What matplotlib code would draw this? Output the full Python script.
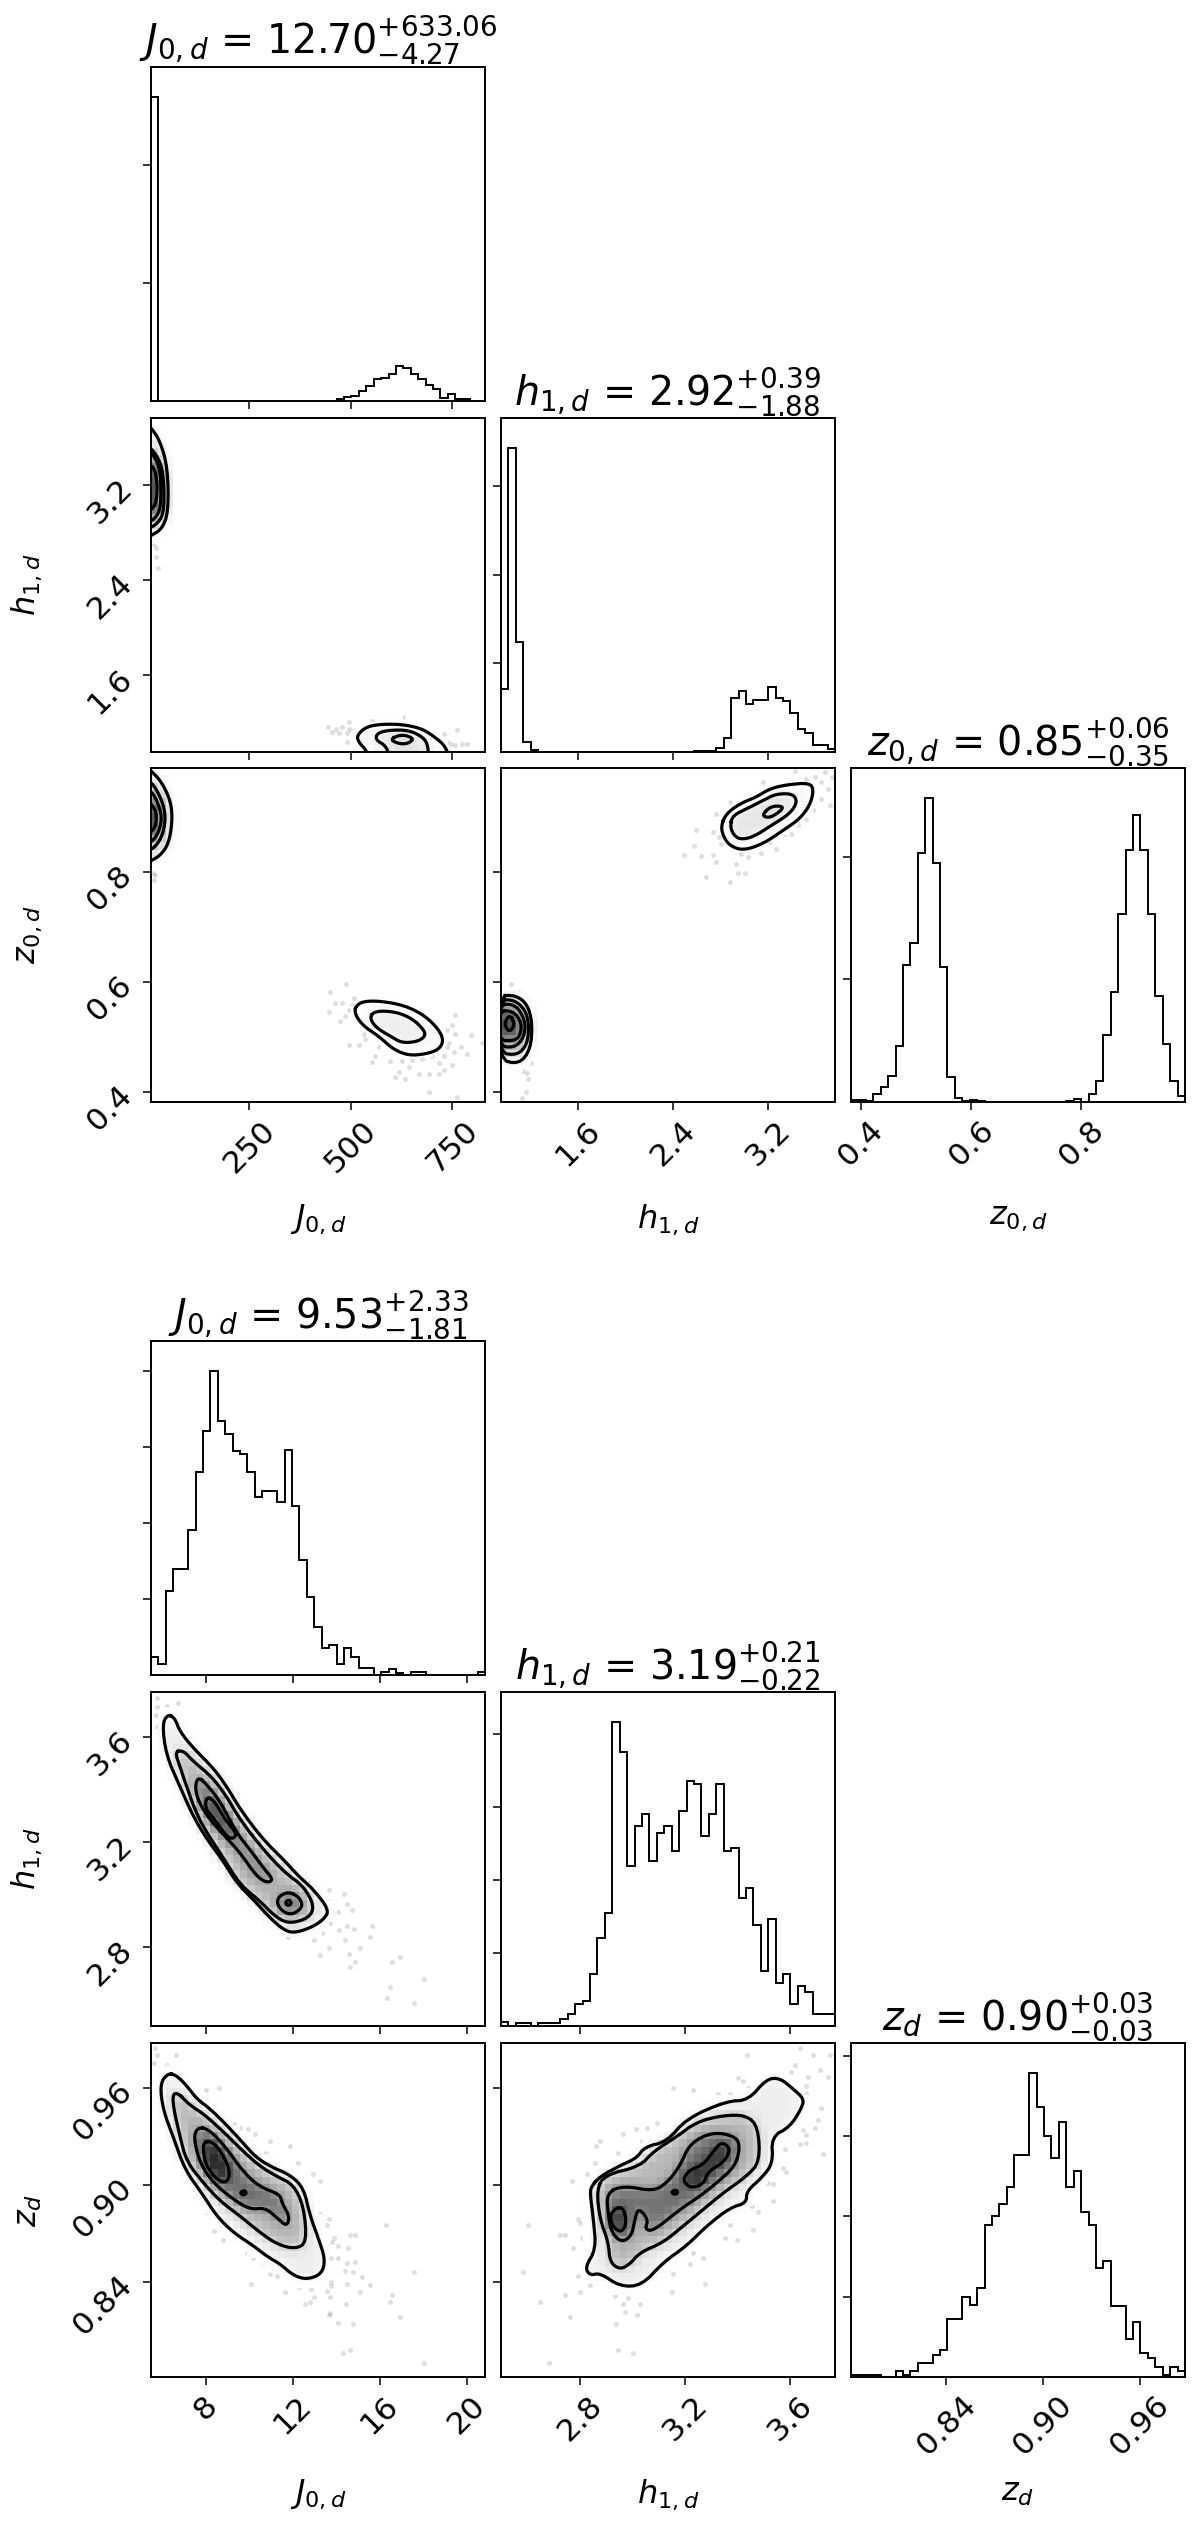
import numpy as np
import matplotlib
matplotlib.use("Agg")
import matplotlib.pyplot as plt
from matplotlib.path import Path

# ---------- labels and ticks ----------
LAB_J = r"$J_{0,d}$"
LAB_H = r"$h_{1,d}$"
LAB_Z0 = r"$z_{0,d}$"
LAB_Z = r"$z_{d}$"
TITLE_T = [r"$J_{0,d}$ = ${12.70}_{-4.27}^{+633.06}$", r"$h_{1,d}$ = ${2.92}_{-1.88}^{+0.39}$", r"$z_{0,d}$ = ${0.85}_{-0.35}^{+0.06}$"]
TITLE_B = [r"$J_{0,d}$ = ${9.53}_{-1.81}^{+2.33}$", r"$h_{1,d}$ = ${3.19}_{-0.22}^{+0.21}$", r"$z_{d}$ = ${0.90}_{-0.03}^{+0.03}$"]

LIM_J_T = (7.0, 831.0); LIM_H_T = (0.955, 3.76); LIM_Z_T = (0.382, 0.988)
LIM_J_B = (5.47, 20.83); LIM_H_B = (2.499, 3.771); LIM_Z_B = (0.781, 0.988)
TICKS_J_T = [250, 500, 750]; TICKS_H_T = [1.6, 2.4, 3.2]; TICKS_Z_T = [0.4, 0.6, 0.8]
TICKS_J_B = [8, 12, 16, 20]; TICKS_H_B = [2.8, 3.2, 3.6]; TICKS_Z_B = [0.84, 0.90, 0.96]
FMT_J_T = ["250", "500", "750"]; FMT_H_T = ["1.6", "2.4", "3.2"]; FMT_Z_T = ["0.4", "0.6", "0.8"]
FMT_J_B = ["8", "12", "16", "20"]; FMT_H_B = ["2.8", "3.2", "3.6"]; FMT_Z_B = ["0.84", "0.90", "0.96"]

# ---------- 1D histograms: counts per bin (45 bins) ----------
HIST_J_T = [1030] + [0]*24 + [6, 14, 18, 34, 50, 75, 78, 90, 119, 113, 92, 73, 55, 41, 10, 23, 7, 6, 0, 0]
HIST_H_T = [285, 1370, 498, 47, 7] + [0]*21 + [5, 5, 5, 17, 64, 245, 275, 215, 235, 235, 292, 245, 230, 176, 102, 84, 32, 32, 15]
HIST_Z_T = [5, 5, 2, 27, 48, 86, 184, 446, 517, 811, 990, 779, 440, 82, 13, 4, 7, 2] + [0]*11 + [4, 9, 0, 25, 70, 217, 358, 614, 822, 936, 822, 614, 347, 188, 68, 20]
HIST_J_B = [24, 15, 111, 140, 140, 191, 267, 321, 400, 335, 317, 295, 291, 267, 234, 243, 243, 228, 297, 223, 151, 103, 63, 35, 39, 15, 35, 24, 9, 9, 0, 4, 8, 3, 0, 4, 4, 0, 0, 0, 0, 0, 0, 0, 4]
HIST_H_B = [5, 0, 4, 4, 0, 4, 4, 4, 9, 16, 30, 34, 71, 121, 155, 416, 375, 219, 274, 290, 226, 265, 274, 240, 295, 336, 331, 260, 290, 331, 240, 244, 176, 189, 139, 75, 147, 59, 71, 30, 55, 46, 16, 16, 16]
HIST_Z_B = [3, 3, 3, 3, 0, 0, 7, 3, 7, 17, 17, 28, 34, 72, 72, 99, 90, 111, 189, 200, 215, 237, 276, 276, 378, 336, 300, 273, 317, 237, 256, 205, 189, 136, 144, 88, 88, 47, 68, 30, 24, 12, 3, 12, 7]
YTICKS_J_T = [400, 800]; YTICKS_H_T = [400, 800, 1200]; YTICKS_Z_T = [400, 800]
YTICKS_B = [100, 200, 300, 400]

# ---------- density contours (x, y data values) ----------
B21_1 = [(6.26,3.686),(6.57,3.671),(6.80,3.620),(7.42,3.557),(8.34,3.481),(8.95,3.411),(9.64,3.316),(10.64,3.208),(11.64,3.126),(12.26,3.069),(12.87,3.025),(13.67,2.942),(13.41,2.904),(12.79,2.872),(12.02,2.853),(11.56,2.866),(10.95,2.910),(10.18,2.980),(9.41,3.044),(8.80,3.126),(7.95,3.221),(7.34,3.310),(6.80,3.411),(6.16,3.532),(5.99,3.652)]
B21_2 = [(6.57,3.544),(6.96,3.548),(7.42,3.506),(8.26,3.449),(8.95,3.373),(9.57,3.284),(10.64,3.170),(11.64,3.082),(12.49,3.031),(12.99,2.955),(12.72,2.910),(11.87,2.889),(11.26,2.910),(10.41,2.980),(9.57,3.037),(8.80,3.139),(7.95,3.246),(7.49,3.322),(7.11,3.411),(6.80,3.487)]
B21_3a = [(7.65,3.449),(8.11,3.411),(8.65,3.354),(9.41,3.234),(10.03,3.170),(10.64,3.101),(11.10,3.056),(10.80,3.044),(10.33,3.069),(9.57,3.158),(9.03,3.208),(8.18,3.284),(7.65,3.354),(7.49,3.411)]
B21_3b = [(11.79,3.012),(12.33,2.987),(12.45,2.949),(11.87,2.919),(11.33,2.949),(11.26,2.987)]
B21_4a = [(8.03,3.373),(8.41,3.354),(8.88,3.284),(9.41,3.234),(9.26,3.211),(8.95,3.221),(8.41,3.284),(7.95,3.329)]
B21_4b = [(11.79,2.980),(11.95,2.968),(11.79,2.956),(11.63,2.968)]
B21_SX = [5.76,5.76,6.19,6.69,5.70,5.73,13.64,14.33,14.48,14.71,13.71,14.07,13.33,14.48,14.79,14.10,15.63,15.56,14.41,15.10,13.64,13.25,14.56,14.87,14.64,16.56,16.94,18.02,16.48,16.33,17.55,10.95,11.76,12.95,13.71]
B21_SY = [3.747,3.715,3.718,3.728,3.684,3.639,3.016,3.003,2.965,2.942,2.974,2.933,2.853,2.881,2.869,2.866,2.881,2.838,2.828,2.796,2.796,2.769,2.775,2.742,2.724,2.742,2.762,2.679,2.648,2.604,2.585,2.876,2.838,2.826,2.891]

B31_1 = [(6.26,.9694),(6.65,.9678),(7.11,.9616),(7.57,.9534),(8.18,.9473),(8.95,.9371),(9.72,.9258),(10.26,.9176),(10.95,.9115),(11.87,.9063),(12.49,.8981),(12.79,.8807),(13.18,.8664),(13.48,.8541),(13.33,.8449),(12.64,.8414),(12.02,.8439),(11.41,.8510),(10.80,.8558),(10.18,.8623),(9.26,.8705),(8.49,.8807),(7.80,.8951),(7.03,.9094),(6.49,.9299),(6.03,.9463),(5.88,.9627)]
B31_2 = [(6.62,.9582),(7.26,.9494),(7.88,.9442),(8.80,.9330),(9.72,.9207),(10.49,.9115),(11.26,.9053),(12.02,.9002),(12.49,.8869),(12.64,.8644),(12.10,.8603),(11.26,.8633),(10.49,.8705),(9.57,.8807),(8.65,.8900),(7.88,.9012),(7.11,.9145),(6.80,.9299),(6.42,.9534)]
B31_3 = [(7.65,.9360),(8.18,.9340),(8.95,.9227),(9.64,.9094),(10.41,.8992),(11.41,.8941),(11.49,.8889),(11.84,.8807),(11.72,.8742),(11.26,.8797),(10.72,.8859),(10.03,.8848),(9.26,.8910),(8.34,.9012),(7.72,.9135),(7.42,.9299)]
B31_4a = [(7.88,.9268),(8.34,.9268),(8.88,.9166),(9.11,.9074),(8.95,.9012),(8.49,.9033),(8.03,.9115),(7.88,.9196)]
B31_4b = [(9.72,.8966),(9.88,.8951),(9.72,.8936),(9.56,.8951)]
B31_SX = [5.65,5.76,6.60,5.60,6.22,8.00,8.61,9.29,9.54,9.92,10.23,10.92,11.84,10.77,11.23,12.22,12.92,13.22,13.22,13.64,13.56,13.90,14.64,14.87,13.79,14.07,14.53,13.76,14.07,14.48,14.87,14.41,14.76,15.17,15.53,15.10,14.48,13.76,13.76,13.71,13.56,12.95,12.76,12.53,14.45,16.48,16.56,16.94,13.68,13.64,14.07,14.76,14.30,14.60,18.02,16.30,17.55,12.26,11.61,12.84,11.26,10.95,10.06,10.61,9.87,10.15,8.77,8.37,8.00,7.39,6.42,6.03]
B31_SY = [.9852,.9805,.9805,.9754,.9745,.9590,.9600,.9381,.9354,.9344,.9313,.9272,.9242,.9201,.9129,.9139,.9068,.9027,.8822,.8787,.8750,.8674,.8688,.8688,.8648,.8623,.8607,.8545,.8545,.8517,.8521,.8470,.8459,.8429,.8381,.8336,.8388,.8398,.8371,.8306,.8340,.8306,.8275,.8265,.8265,.8275,.8316,.8183,.8209,.8197,.8142,.8136,.7957,.7978,.7896,.8750,.8459,.8367,.8336,.8357,.8439,.8449,.8388,.8511,.8578,.8545,.8658,.8717,.8832,.8975,.9258,.9350]

B32_1 = [(2.844,.8992),(2.876,.9053),(2.958,.9125),(3.015,.9166),(3.047,.9237),(3.130,.9268),(3.206,.9412),(3.358,.9520),(3.440,.9524),(3.510,.9657),(3.561,.9663),(3.611,.9596),(3.653,.9534),(3.643,.9473),(3.599,.9360),(3.529,.9299),(3.535,.9135),(3.491,.9043),(3.434,.8961),(3.434,.8889),(3.371,.8859),(3.282,.8746),(3.206,.8623),(3.117,.8521),(3.035,.8377),(2.952,.8371),(2.876,.8455),(2.838,.8439),(2.819,.8490),(2.861,.8603),(2.851,.8787),(2.838,.8951)]
B32_2 = [(2.863,.8971),(2.895,.9063),(3.028,.9115),(3.079,.9207),(3.168,.9299),(3.244,.9391),(3.345,.9432),(3.434,.9432),(3.478,.9360),(3.485,.9145),(3.434,.9053),(3.345,.8951),(3.269,.8848),(3.193,.8746),(3.117,.8644),(3.028,.8582),(2.990,.8510),(2.952,.8476),(2.914,.8521),(2.908,.8644),(2.876,.8787)]
B32_3 = [(2.901,.8951),(2.965,.8996),(3.079,.8961),(3.130,.9012),(3.180,.9115),(3.218,.9258),(3.307,.9330),(3.396,.9299),(3.409,.9227),(3.390,.9115),(3.320,.9012),(3.256,.8930),(3.180,.8848),(3.079,.8715),(3.047,.8725),(3.060,.8787),(3.022,.8859),(3.009,.8787),(2.996,.8684),(2.958,.8644),(2.920,.8705),(2.908,.8807)]
B32_4a = [(3.307,.9207),(3.339,.9268),(3.373,.9227),(3.351,.9145),(3.288,.9084),(3.269,.9002),(3.218,.8981),(3.190,.9033),(3.218,.9094),(3.269,.9125)]
B32_4b = [(2.937,.8859),(2.965,.8859),(2.978,.8766),(2.958,.8705),(2.927,.8736),(2.912,.8807)]
B32_4c = [(3.161,.8970),(3.175,.8955),(3.161,.8940),(3.147,.8955)]
B32_SX = [3.637,3.687,3.753,3.434,3.618,3.605,3.713,3.668,3.745,3.402,3.421,3.440,3.155,3.231,3.326,3.371,3.662,3.662,3.675,3.668,3.719,3.706,3.694,3.650,3.662,3.637,3.662,3.726,3.580,3.573,3.586,3.535,3.516,3.535,3.478,3.453,3.459,3.371,3.351,3.396,3.275,3.269,3.231,3.218,3.155,3.149,3.092,3.054,3.015,2.965,3.035,2.876,2.861,2.946,2.857,2.825,2.768,2.794,2.800,2.603,2.724,2.743,2.806,2.775,2.825,2.584,2.794,2.838,2.882,2.800,2.743,2.648,2.933,2.933,2.984,2.965,3.028,2.971,3.016,2.762,2.937,2.946,3.003,2.680]
B32_SY = [.9848,.9807,.9807,.9807,.9745,.9698,.9713,.9668,.9672,.9664,.9643,.9600,.9600,.9590,.9561,.9561,.9616,.9569,.9528,.9487,.9477,.9405,.9356,.9340,.9309,.9254,.9262,.9190,.9221,.9108,.9078,.9006,.9012,.8900,.8832,.8869,.8719,.8750,.8674,.8658,.8388,.8545,.8578,.8511,.8449,.8336,.9385,.9354,.9344,.9313,.9272,.9272,.9242,.9201,.9139,.9068,.9027,.8787,.8766,.8750,.8688,.8688,.8674,.8607,.8597,.8459,.8433,.8382,.8392,.8336,.8316,.8275,.8347,.8312,.8300,.8265,.8265,.8213,.8197,.8183,.8138,.7978,.7958,.7896]

T21_L1 = [(-7.8,3.717),(7.0,3.680),(29.3,3.567),(48.2,3.342),(49.9,2.968),(33.4,2.825),(7.0,2.773),(-7.8,2.743)]
T21_L2 = [(-7.8,3.548),(21.0,3.455),(37.5,3.305),(40.0,2.987),(25.2,2.874),(-7.8,2.818)]
T21_L3 = [(-7.8,3.511),(16.9,3.436),(30.9,3.305),(31.7,3.005),(16.9,2.912),(-7.8,2.874)]
T21_L4 = [(-7.8,3.361),(12.8,3.361),(22.7,3.230),(21.0,3.061),(8.7,2.986),(-7.8,2.975)]
T21_R1 = [(544,0.870),(540,0.963),(519,1.038),(515,1.094),(536,1.162),(569,1.188),(626,1.188),(676,1.151),(709,1.076),(734,1.001),(746,0.870)]
T21_R2 = [(598,.870),(589,1.001),(561,1.057),(565,1.113),(594,1.139),(643,1.139),(680,1.076),(691,1.001),(691,.870)]
T21_R3 = [(594,1.057),(626,1.106),(659,1.064),(631,1.012)]
T21_SX = [12.8,19.4,19.4,23.5,15.3,443.6,463.4,478,494.7,503,490.5,511,470,551,606,629,762.4,729,737.7,746,758.2,774.7,787,490.5,453.5,494.7,507]
T21_SY = [2.743,2.668,2.593,2.499,2.705,1.169,1.151,1.162,1.207,1.132,1.113,1.094,1.113,1.214,1.252,1.252,1.139,1.102,1.038,1.019,1.012,1.019,1.019,1.038,1.125,1.151,1.076]

T31_L1 = [(-7.8,.9911),(7,.9830),(33.4,.9628),(56.4,.9263),(59.7,.8899),(49.9,.8494),(29.3,.8291),(7,.8195),(-7.8,.8170)]
T31_L2 = [(-7.8,.9709),(16.9,.9547),(37.5,.9223),(43.3,.8939),(33.4,.8616),(12.8,.8413),(-7.8,.8373)]
T31_L3 = [(-7.8,.9506),(12.8,.9425),(29.3,.9142),(33.4,.8939),(25.2,.8697),(8.7,.8535),(-7.8,.8519)]
T31_L4 = [(-7.8,.9304),(8.7,.9223),(21.0,.9061),(18.6,.8818),(4.6,.8697),(-7.8,.8697)]
T31_R1 = [(507,.5459),(519,.5620),(552,.5660),(602,.5620),(643,.5539),(684,.5377),(717,.5134),(729,.4932),(717,.4770),(684,.4689),(643,.4664),(606,.4769),(569,.5012),(528,.5215)]
T31_R2 = [(546,.5360),(561,.5474),(610,.5458),(651,.5336),(680,.5134),(684,.5012),(664,.4915),(626,.4891),(598,.5012),(561,.5174)]
T31_SX = [12.8,16.9,15.3,449.4,489,461.7,478,445.2,494.7,507,503,486.4,474,494.7,519.4,531.7,568.8,560.6,552.3,597.6,626.5,651.2,675.9,700.6,717,729.4,750,717,692.4,667.6,642.9,618.2,610,634.7,758.2,737.7,750,758.2,741.8,754,770.6,787,795.3,824,692.4,762.4,729.4,737.7,535.9]
T31_SY = [.797,.793,.785,.5822,.5968,.5620,.5620,.5458,.5498,.5701,.5579,.5377,.5296,.4851,.4851,.5053,.4810,.4648,.4551,.4567,.4567,.4583,.4608,.4648,.4527,.4405,.4486,.4324,.4324,.4324,.4446,.4365,.4268,.4243,.5401,.5134,.5215,.5053,.4891,.4729,.4810,.4689,.5037,.4891,.4000,.3903,.4648,.4810,.4972]

T32_R1 = [(2.804,.8837),(2.846,.9049),(2.959,.9231),(3.099,.9352),(3.211,.9503),(3.352,.9576),(3.548,.9612),(3.582,.9473),(3.548,.9200),(3.464,.8958),(3.323,.8746),(3.155,.8503),(2.987,.8382),(2.874,.8473),(2.818,.8655)]
T32_R2 = [(2.880,.8837),(2.902,.9019),(3.029,.9152),(3.155,.9291),(3.267,.9412),(3.408,.9412),(3.444,.9261),(3.380,.9049),(3.225,.8837),(3.071,.8625),(2.959,.8582),(2.902,.8685)]
T32_R3 = [(3.155,.9049),(3.225,.9188),(3.323,.9188),(3.309,.9109),(3.225,.8988),(3.169,.8988)]
T32_L1 = [(.9375,.5746),(1.078,.5758),(1.176,.5594),(1.218,.5261),(1.204,.4776),(1.106,.4503),(.9375,.4594)]
T32_L2 = [(.9375,.5673),(1.064,.5673),(1.156,.5503),(1.190,.5231),(1.176,.4867),(1.092,.4667),(.9375,.4715)]
T32_L3 = [(.9375,.5594),(1.064,.5594),(1.134,.5412),(1.162,.5200),(1.140,.4958),(1.064,.4806),(.9375,.4836)]
T32_L4 = [(.9375,.5473),(1.050,.5473),(1.112,.5321),(1.128,.5170),(1.106,.4988),(1.050,.4928),(.9375,.4946)]
T32_L5 = [(1.027,.5412),(1.072,.5231),(1.027,.5079),(.980,.5231)]
T32_SX = [3.422,3.520,3.590,3.646,3.674,3.731,3.702,3.646,3.716,3.576,3.520,3.450,3.394,3.267,3.155,2.874,2.762,2.734,2.594,2.580,2.495,2.636,2.734,2.762,2.804,2.790,2.930,2.973,3.029,3.141,2.945,3.001,2.678,2.874,3.211,3.338,1.036,1.106,1.204,1.106,1.140,1.176,1.185,1.162,1.134,1.078]
T32_SY = [.9819,.9685,.9715,.9625,.9806,.9715,.9503,.9321,.9200,.9109,.8958,.8837,.8685,.8412,.9625,.9261,.9049,.8715,.8758,.8461,.8303,.8279,.8303,.8182,.8503,.8625,.8140,.8321,.8261,.8340,.7970,.7970,.7909,.7818,.8534,.8685,.5970,.5818,.4534,.4443,.4382,.4352,.4243,.3999,.3897,.4412]

# ---------- figure ----------
W, H = 1200, 2543
fig = plt.figure(figsize=(W/100, H/100), dpi=100, facecolor="white")
plt.rcParams["mathtext.fontset"] = "dejavusans"

COL = [151, 501, 851]
SIZE = 334
ROW_T = [67, 418, 768]
ROW_B = [1341, 1692, 2043]
TITLE_FS, TICK_FS, LABEL_FS = 28.5, 22.5, 23
LW_AX, LW_H, LW_C = 1.4, 1.4, 2.3


def make_ax(col, top):
    ax = fig.add_axes([col/W, 1-(top+SIZE)/H, SIZE/W, SIZE/H])
    for s in ax.spines.values():
        s.set_linewidth(LW_AX)
    ax.tick_params(length=6, width=1.1, labelsize=TICK_FS)
    return ax


def chaikin(pts, n=2):
    p = np.asarray(pts, float)
    for _ in range(n):
        q = np.roll(p, -1, axis=0)
        p = np.column_stack([0.75*p + 0.25*q, 0.25*p + 0.75*q]).reshape(-1, 2)
    return np.vstack([p, p[:1]])


def diag(col, top, counts, xlim, xticks, yticks, title):
    ax = make_ax(col, top)
    edges = np.linspace(xlim[0], xlim[1], len(counts)+1)
    ax.stairs(counts, edges, color="k", lw=LW_H, fill=False)
    ax.set_xlim(xlim)
    ax.set_ylim(0, 1.1*max(counts))
    ax.set_xticks(xticks); ax.set_xticklabels([])
    ax.set_yticks(yticks); ax.set_yticklabels([])
    ax.set_title(title, fontsize=TITLE_FS, pad=3)
    return ax


def panel(col, top, rings, sx, sy, xlim, ylim, n=45, sub=4):
    ax = make_ax(col, top)
    xe = np.linspace(*xlim, n+1); ye = np.linspace(*ylim, n+1)
    xs = np.linspace(*xlim, n*sub, endpoint=False) + (xlim[1]-xlim[0])/(2*n*sub)
    ys = np.linspace(*ylim, n*sub, endpoint=False) + (ylim[1]-ylim[0])/(2*n*sub)
    gx, gy = np.meshgrid(xs, ys)
    pts = np.column_stack([gx.ravel(), gy.ravel()])
    tone = np.ones(gx.shape)
    curves = []
    for poly, g in rings:
        c = chaikin(poly)
        curves.append(c)
        inside = Path(c).contains_points(pts).reshape(gx.shape)
        tone = np.where(inside, np.minimum(tone, g), tone)
    tone = tone.reshape(n, sub, n, sub).mean(axis=(1, 3))
    k = np.array([1, 2, 1])/4
    pad = np.pad(tone, 1, mode="edge")
    pad = np.apply_along_axis(lambda r: np.convolve(r, k, mode="same"), 0, pad)
    pad = np.apply_along_axis(lambda r: np.convolve(r, k, mode="same"), 1, pad)
    tone = pad[1:-1, 1:-1]
    ax.plot(sx, sy, "o", ms=3.6, color="k", alpha=0.13, mec="none", zorder=1)
    ax.pcolormesh(xe, ye, np.ma.masked_greater(tone, 0.995), cmap="gray", vmin=0, vmax=1,
                  antialiased=True, linewidth=0, zorder=2)
    for c in curves:
        ax.plot(c[:, 0], c[:, 1], color="k", lw=LW_C, zorder=3)
    ax.set_xlim(xlim); ax.set_ylim(ylim)
    return ax


def finish(ax, xticks=None, xfmt=None, xlabel=None, yticks=None, yfmt=None, ylabel=None):
    if xticks is not None:
        ax.set_xticks(xticks)
        if xfmt is None:
            ax.set_xticklabels([])
        else:
            ax.set_xticklabels(xfmt, rotation=45)
    if yticks is not None:
        ax.set_yticks(yticks)
        if yfmt is None:
            ax.set_yticklabels([])
        else:
            ax.set_yticklabels(yfmt, rotation=45)
    if xlabel:
        ax.set_xlabel(xlabel, fontsize=LABEL_FS)
        ax.xaxis.set_label_coords(0.5, -0.3)
    if ylabel:
        ax.set_ylabel(ylabel, fontsize=LABEL_FS)
        ax.yaxis.set_label_coords(-0.32, 0.5)


# ---- top corner ----
diag(COL[0], ROW_T[0], HIST_J_T, LIM_J_T, TICKS_J_T, YTICKS_J_T, TITLE_T[0])
diag(COL[1], ROW_T[1], HIST_H_T, LIM_H_T, TICKS_H_T, YTICKS_H_T, TITLE_T[1])
a = diag(COL[2], ROW_T[2], HIST_Z_T, LIM_Z_T, TICKS_Z_T, YTICKS_Z_T, TITLE_T[2])
finish(a, TICKS_Z_T, FMT_Z_T, LAB_Z0)

a = panel(COL[0], ROW_T[1],
          [(T21_L1, .9), (T21_L2, .72), (T21_L3, .42), (T21_L4, .16),
           (T21_R1, .97), (T21_R2, .9), (T21_R3, .82)],
          T21_SX, T21_SY, LIM_J_T, LIM_H_T)
finish(a, TICKS_J_T, None, None, TICKS_H_T, FMT_H_T, LAB_H)

a = panel(COL[0], ROW_T[2],
          [(T31_L1, .9), (T31_L2, .72), (T31_L3, .42), (T31_L4, .14),
           (T31_R1, .98), (T31_R2, .93)],
          T31_SX, T31_SY, LIM_J_T, LIM_Z_T)
finish(a, TICKS_J_T, FMT_J_T, LAB_J, TICKS_Z_T, FMT_Z_T, LAB_Z0)

a = panel(COL[1], ROW_T[2],
          [(T32_R1, .98), (T32_R2, .9), (T32_R3, .82),
           (T32_L1, .92), (T32_L2, .78), (T32_L3, .62), (T32_L4, .4), (T32_L5, .08)],
          T32_SX, T32_SY, LIM_H_T, LIM_Z_T)
finish(a, TICKS_H_T, FMT_H_T, LAB_H, TICKS_Z_T, None, None)

# ---- bottom corner ----
diag(COL[0], ROW_B[0], HIST_J_B, LIM_J_B, TICKS_J_B, YTICKS_B, TITLE_B[0])
diag(COL[1], ROW_B[1], HIST_H_B, LIM_H_B, TICKS_H_B, YTICKS_B, TITLE_B[1])
a = diag(COL[2], ROW_B[2], HIST_Z_B, LIM_Z_B, TICKS_Z_B, YTICKS_B, TITLE_B[2])
finish(a, TICKS_Z_B, FMT_Z_B, LAB_Z)

a = panel(COL[0], ROW_B[1],
          [(B21_1, .92), (B21_2, .72), (B21_3a, .48), (B21_3b, .48), (B21_4a, .2), (B21_4b, .05)],
          B21_SX, B21_SY, LIM_J_B, LIM_H_B)
finish(a, TICKS_J_B, None, None, TICKS_H_B, FMT_H_B, LAB_H)

a = panel(COL[0], ROW_B[2],
          [(B31_1, .93), (B31_2, .72), (B31_3, .45), (B31_4a, .12), (B31_4b, .12)],
          B31_SX, B31_SY, LIM_J_B, LIM_Z_B)
finish(a, TICKS_J_B, FMT_J_B, LAB_J, TICKS_Z_B, FMT_Z_B, LAB_Z)

a = panel(COL[1], ROW_B[2],
          [(B32_1, .93), (B32_2, .72), (B32_3, .45), (B32_4a, .15), (B32_4b, .12), (B32_4c, .1)],
          B32_SX, B32_SY, LIM_H_B, LIM_Z_B)
finish(a, TICKS_H_B, FMT_H_B, LAB_H, TICKS_Z_B, None, None)

fig.savefig("out.png", dpi=100, facecolor="white")
